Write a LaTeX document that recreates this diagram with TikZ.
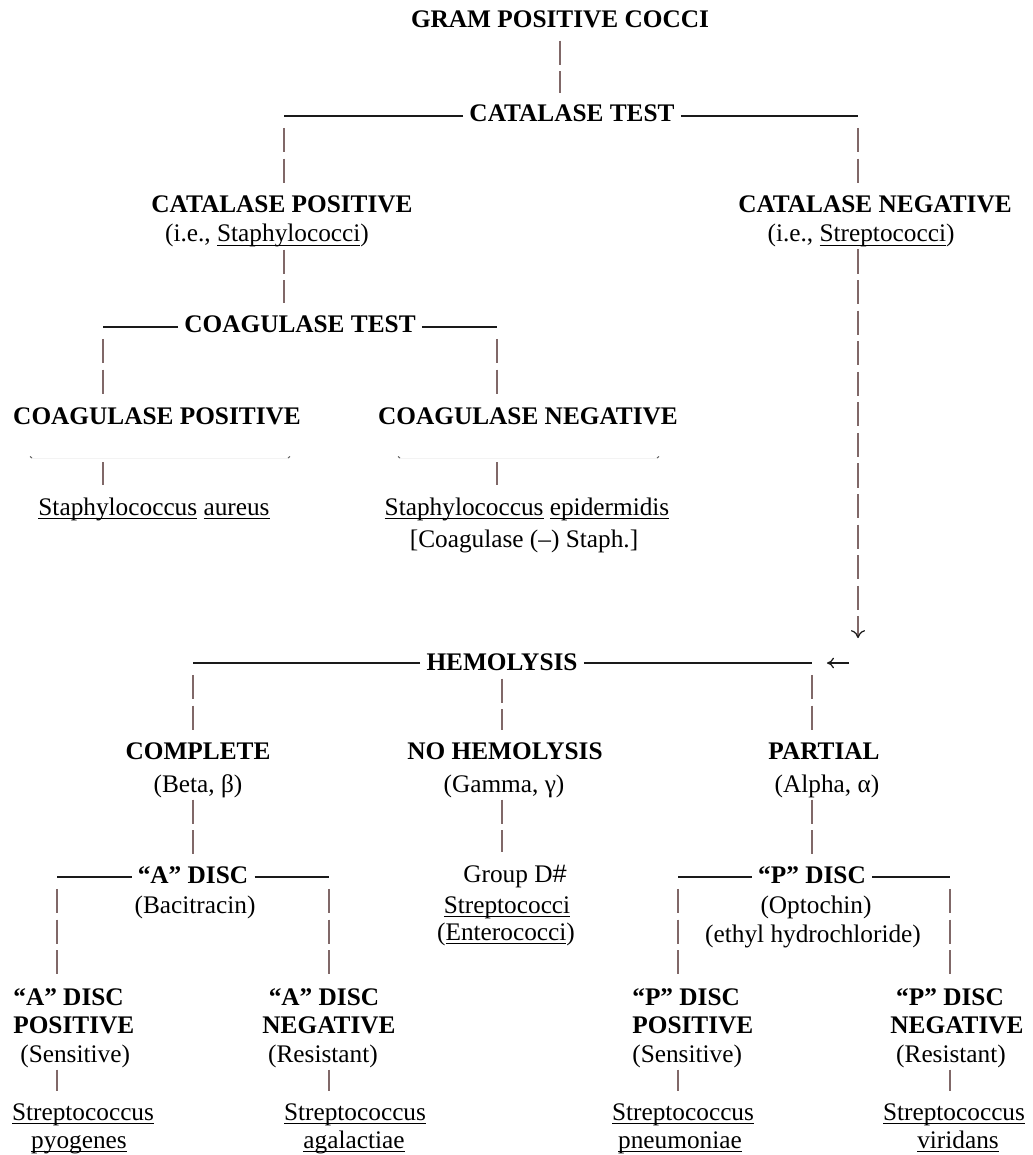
\documentclass[tikz,border=0pt]{standalone}
\usepackage{fontspec}
\setmainfont{Liberation Serif}
\newfontfamily\hashfont{Liberation Sans}
\usetikzlibrary{arrows.meta}
\definecolor{clrbar}{HTML}{806868}
\definecolor{clrrule}{HTML}{1A1A1A}
\definecolor{clrtick}{HTML}{666666}
\definecolor{clrghost}{HTML}{F3F3F3}
\newsavebox\ulbox
\newcommand\ulw[1]{\sbox\ulbox{#1}\rlap{\rule[-2.2pt]{\wd\ulbox}{0.6pt}}\usebox\ulbox}
\newcommand\txtsize{\fontsize{14.4}{17}\selectfont}

\begin{document}
\begin{tikzpicture}[
    x=0.02cm, y=-0.02cm,
    hd/.style={font=\txtsize\bfseries, inner sep=0, anchor=base},
    txt/.style={font=\txtsize, inner sep=0, anchor=base},
    tline/.style={draw=clrrule, line width=0.85pt, shorten <=3.4pt},
    bar/.style={draw=clrbar, line width=0.7pt, dash pattern=on 13.7pt off 3.7pt,
                shorten <=6.8pt, shorten >=6.8pt},
    tick/.style={draw=clrtick, line width=0.6pt},
    ghost/.style={draw=clrghost, line width=0.5pt},
]
\useasboundingbox (0,0) rectangle (1032,1155);

% top levels
\node[hd] (gpc) at (560,28) {GRAM POSITIVE COCCI};
\node[hd] (catTest) at (572,122) {CATALASE TEST};
\node[hd] (catPos) at (282,213) {CATALASE POSITIVE};
\node[txt] (catPosSub) at (267,242) {(i.e., \ulw{Staphylococci})};
\node[hd] (catNeg) at (875,213) {CATALASE NEGATIVE};
\node[txt] (catNegSub) at (861,242) {(i.e., \ulw{Streptococci})};
\node[hd] (coagTest) at (300,332) {COAGULASE TEST};
\node[hd] (coagPos) at (157,424) {COAGULASE POSITIVE};
\node[hd] (coagNeg) at (528,424) {COAGULASE NEGATIVE};
\node[txt] (aureus) at (154,515) {\ulw{Staphylococcus} \ulw{aureus}};
\node[txt] (epi) at (527,515) {\ulw{Staphylococcus} \ulw{epidermidis}};
\node[txt] (epiSub) at (524,547) {[Coagulase (–) Staph.]};

% hemolysis
\node[hd] (hemo) at (502,670) {HEMOLYSIS};
\node[hd] (compl) at (198,759) {COMPLETE};
\node[txt] (complSub) at (198,792) {(Beta, β)};
\node[hd] (noHemo) at (505,759) {NO HEMOLYSIS};
\node[txt] (noHemoSub) at (504,792) {(Gamma, γ)};
\node[hd] (partial) at (824,759) {PARTIAL};
\node[txt] (partialSub) at (827,792) {(Alpha, α)};
\node[hd] (aDisc) at (193,883) {“A” DISC};
\node[txt] (bacit) at (195,913) {(Bacitracin)};
\node[txt] (grpD) at (515,882) {Group D{\hashfont\#}};
\node[txt] (grpDStrep) at (507,913) {\ulw{Streptococci}};
\node[txt] (grpDEntero) at (506,940) {(\ulw{Enterococci})};
\node[hd] (pDisc) at (812,883) {“P” DISC};
\node[txt] (optochin) at (816,913) {(Optochin)};
\node[txt] (ethyl) at (813,942) {(ethyl hydrochloride)};

% A disc results
\node[hd, anchor=base west] (aPos1) at (13,1005) {“A” DISC};
\node[hd, anchor=base west] (aPos2) at (13,1033) {POSITIVE};
\node[txt, anchor=base west] (aPos3) at (20,1062) {(Sensitive)};
\node[hd] (aNeg1) at (324,1005) {“A” DISC};
\node[hd] (aNeg2) at (329,1033) {NEGATIVE};
\node[txt] (aNeg3) at (323,1062) {(Resistant)};
\node[txt] (pyo1) at (83,1120) {\ulw{Streptococcus}};
\node[txt] (pyo2) at (79,1148) {\ulw{pyogenes}};
\node[txt] (aga1) at (355,1120) {\ulw{Streptococcus}};
\node[txt] (aga2) at (354,1148) {\ulw{agalactiae}};

% P disc results
\node[hd, anchor=base west] (pPos1) at (632,1005) {“P” DISC};
\node[hd, anchor=base west] (pPos2) at (632,1033) {POSITIVE};
\node[txt, anchor=base west] (pPos3) at (632,1062) {(Sensitive)};
\node[hd] (pNeg1) at (950,1005) {“P” DISC};
\node[hd] (pNeg2) at (957,1033) {NEGATIVE};
\node[txt] (pNeg3) at (951,1062) {(Resistant)};
\node[txt] (pneu1) at (683,1120) {\ulw{Streptococcus}};
\node[txt] (pneu2) at (680,1148) {\ulw{pneumoniae}};
\node[txt] (viri1) at (954,1120) {\ulw{Streptococcus}};
\node[txt] (viri2) at (958,1148) {\ulw{viridans}};

% branch points
\coordinate (catL) at (284,116);
\coordinate (catR) at (858,116);
\coordinate (coagL) at (103,327);
\coordinate (coagR) at (497,327);
\coordinate (tkA) at (32,458);
\coordinate (tkB) at (288,458);
\coordinate (tkC) at (400,458);
\coordinate (tkD) at (657,458);
\coordinate (hemoL) at (193,663);
\coordinate (hemoR) at (812,663);
\coordinate (joinR) at (858,663);
\coordinate (aDiscL) at (57,877);
\coordinate (aDiscR) at (329,877);
\coordinate (pDiscL) at (678,877);
\coordinate (pDiscR) at (950,877);

% catalase
\draw[bar] (gpc.south) -- (gpc.south |- catTest.north);
\draw[tline] (catL -| catTest.west) -- (catL);
\draw[tline] (catR -| catTest.east) -- (catR);
\draw[bar] (catL) -- (catL |- catPos.north);
\draw[bar] (catR) -- (catR |- catNeg.north);
\draw[bar, shorten <=1pt] (catL |- catPosSub.south) -- (catL |- coagTest.north);

% coagulase
\draw[tline] (coagL -| coagTest.west) -- (coagL);
\draw[tline] (coagR -| coagTest.east) -- (coagR);
\draw[bar] (coagL) -- (coagL |- coagPos.north);
\draw[bar] (coagR) -- (coagR |- coagNeg.north);
\draw[ghost] (tkA) -- (tkB) (tkC) -- (tkD);
\draw[tick] (tkA) -- ++(-2,-1.5) (tkB) -- ++(2,-1.5) (tkC) -- ++(-2,-1.5) (tkD) -- ++(2,-1.5);
\draw[bar, shorten <=2.5pt] (coagL |- tkA) -- (coagL |- aureus.north);
\draw[bar, shorten <=2.5pt] (coagR |- tkC) -- (coagR |- epi.north);

% streptococci to hemolysis
\draw[bar, shorten <=1pt, shorten >=14.2pt, -{To[length=4.5pt,width=8pt,color=clrrule]}] (catR |- catNegSub.south) -- (joinR);
\draw[tline, line width=0.7pt, shorten <=5pt, shorten >=8.5pt, -{To[length=4pt,width=6pt]}] (joinR) -- (hemoR);

% hemolysis
\draw[tline] (hemoL -| hemo.west) -- (hemoL);
\draw[tline] (hemoR -| hemo.east) -- (hemoR);
\draw[bar] (hemoL) -- (hemoL |- compl.north);
\draw[bar, shorten <=4.5pt] (hemo.south) -- (hemo.south |- noHemo.north);
\draw[bar] (hemoR) -- (hemoR |- partial.north);
\draw[bar, shorten <=1pt] (hemoL |- complSub.south) -- (hemoL |- aDisc.north);
\draw[bar, shorten <=1pt] (hemo.south |- noHemoSub.south) -- (hemo.south |- grpD.north);
\draw[bar, shorten <=1pt] (hemoR |- partialSub.south) -- (hemoR |- pDisc.north);

% A disc
\draw[tline] (aDiscL -| aDisc.west) -- (aDiscL);
\draw[tline] (aDiscR -| aDisc.east) -- (aDiscR);
\draw[bar] (aDiscL) -- (aDiscL |- aPos1.north);
\draw[bar] (aDiscR) -- (aDiscR |- aNeg1.north);
\draw[bar, shorten <=1pt] (aDiscL |- aPos3.south) -- (aDiscL |- pyo1.north);
\draw[bar, shorten <=1pt] (aDiscR |- aNeg3.south) -- (aDiscR |- aga1.north);

% P disc
\draw[tline] (pDiscL -| pDisc.west) -- (pDiscL);
\draw[tline] (pDiscR -| pDisc.east) -- (pDiscR);
\draw[bar] (pDiscL) -- (pDiscL |- pPos1.north);
\draw[bar] (pDiscR) -- (pDiscR |- pNeg1.north);
\draw[bar, shorten <=1pt] (pDiscL |- pPos3.south) -- (pDiscL |- pneu1.north);
\draw[bar, shorten <=1pt] (pDiscR |- pNeg3.south) -- (pDiscR |- viri1.north);
\end{tikzpicture}
\end{document}
